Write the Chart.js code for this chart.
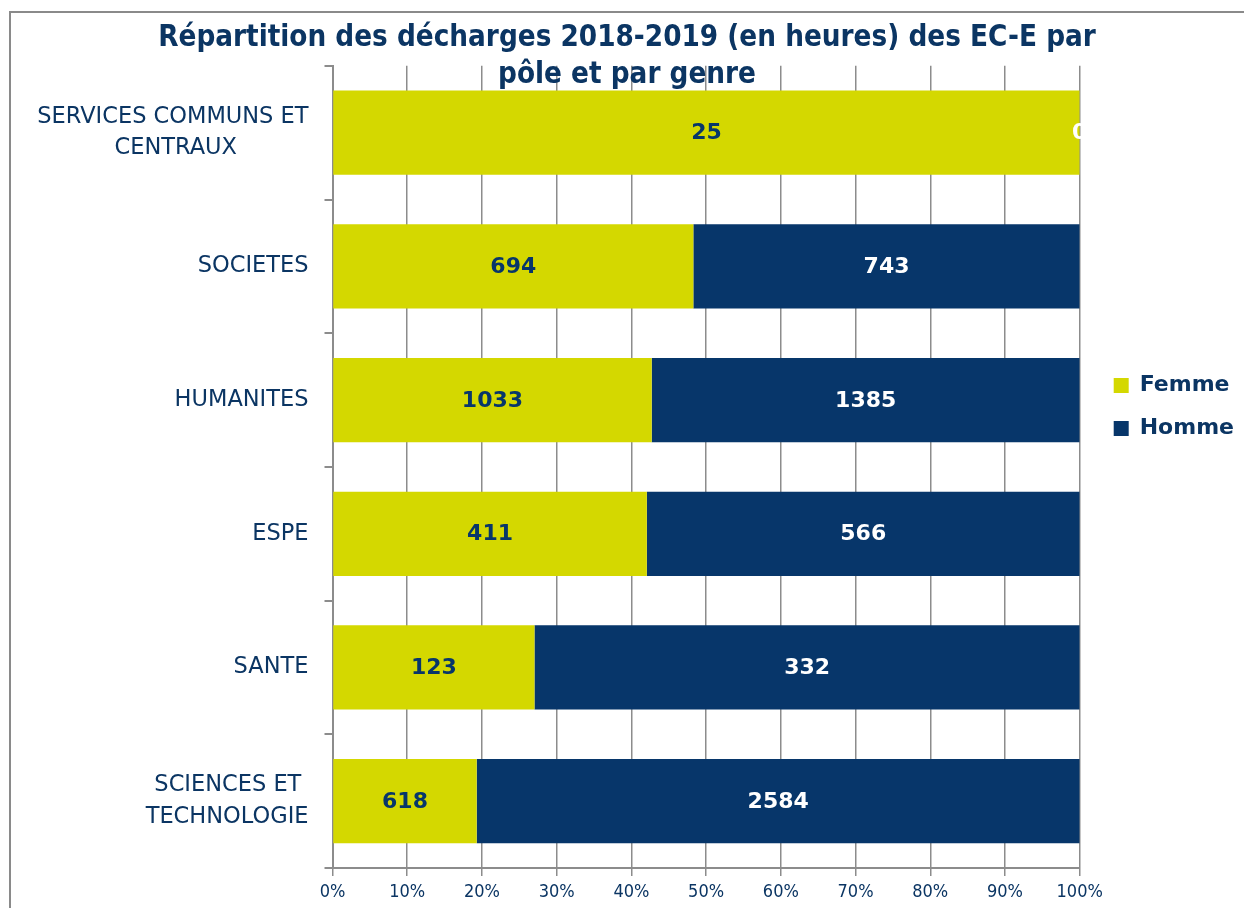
<!DOCTYPE html>
<html lang="fr">
<head>
<meta charset="utf-8">
<title>Répartition des décharges 2018-2019</title>
<script src="https://cdn.jsdelivr.net/npm/chart.js@4/dist/chart.umd.min.js"></script>
<style>
  html, body { margin: 0; padding: 0; background: #fff; }
  #wrap { position: relative; width: 1244px; height: 908px; }
  #frame {
    position: absolute; left: 9px; top: 11px; right: -10px; bottom: -10px;
    border-left: 2px solid #8a8a8a; border-top: 2px solid #8a8a8a;
    pointer-events: none;
  }
</style>
</head>
<body>
<div id="wrap">
  <canvas id="chart" width="1244" height="908"></canvas>
  <div id="frame"></div>
</div>
<script>
'use strict';

// ── Data ──────────────────────────────────────────────────────────────────────
const categories = [
  ['SERVICES COMMUNS ET', 'CENTRAUX'],
  'SOCIETES',
  'HUMANITES',
  'ESPE',
  'SANTE',
  ['SCIENCES ET', 'TECHNOLOGIE']
];
const femmeHours = [25, 694, 1033, 411, 123, 618];
const hommeHours = [0, 743, 1385, 566, 332, 2584];
const xTicks = [0, 10, 20, 30, 40, 50, 60, 70, 80, 90, 100];

const NAVY = '#07366a';
const LIME = '#d4d800';
const TEXT = '#0b3563';
const GRID = '#8c8c8c';

// share of each pole, in percent (100% stacked bars)
const totals = femmeHours.map((f, i) => f + hommeHours[i]);
const femmePct = femmeHours.map((f, i) => f / totals[i] * 100);
const hommePct = hommeHours.map((h, i) => h / totals[i] * 100);

// center short lines of a multi-line label under the longest one
const LABEL_FONT = '22.5px "DejaVu Sans"';
const measure = document.createElement('canvas').getContext('2d');
measure.font = LABEL_FONT;
function centerLines(label) {
  if (!Array.isArray(label)) return label;
  const widths = label.map(l => measure.measureText(l).width);
  const max = Math.max(...widths);
  const sp = measure.measureText(' ').width;
  return label.map((l, i) => l + ' '.repeat(Math.round((max - widths[i]) / 2 / sp)));
}

// ── Plugins ───────────────────────────────────────────────────────────────────
// value labels in the middle of each segment
const valueLabels = {
  id: 'valueLabels',
  afterDatasetsDraw(chart) {
    const ctx = chart.ctx;
    ctx.save();
    ctx.font = 'bold 22px "DejaVu Sans"';
    ctx.textAlign = 'center';
    ctx.textBaseline = 'middle';
    chart.data.datasets.forEach((ds, di) => {
      const meta = chart.getDatasetMeta(di);
      meta.data.forEach((bar, i) => {
        const x = (bar.x + bar.base) / 2;
        ctx.fillStyle = ds.labelColor;
        ctx.fillText(String(ds.hours[i]), x, bar.y + 1);
      });
    });
    ctx.restore();
  }
};

// nudge legend and title to where they sit in the original
const boxNudge = {
  id: 'boxNudge',
  afterLayout(chart) {
    const lg = chart.legend;
    if (lg) {
      lg.left += 13; lg.right += 13;
      lg.top -= 47; lg.bottom -= 47;
    }
    const tb = chart.titleBlock;
    if (tb) { tb.left -= 5; tb.right -= 5; }
  }
};

// ── Chart ─────────────────────────────────────────────────────────────────────
new Chart(document.getElementById('chart'), {
  type: 'bar',
  data: {
    labels: categories,
    datasets: [
      { label: 'Femme', data: femmePct, hours: femmeHours, backgroundColor: LIME, labelColor: NAVY },
      { label: 'Homme', data: hommePct, hours: hommeHours, backgroundColor: NAVY, labelColor: '#ffffff' }
    ]
  },
  options: {
    indexAxis: 'y',
    responsive: false,
    animation: false,
    layout: { padding: { left: 33, right: 13, top: 0, bottom: 0 } },
    datasets: { bar: { categoryPercentage: 1, barPercentage: 0.63, borderWidth: 0 } },
    scales: {
      x: {
        stacked: true,
        min: 0, max: 100,
        afterBuildTicks(axis) { axis.ticks = xTicks.map(v => ({ value: v })); },
        afterFit(axis) { axis.height = 40; },
        grid: { color: GRID, lineWidth: 1.5, tickLength: 8 },
        border: { color: GRID, width: 2 },
        ticks: {
          color: TEXT,
          padding: 6,
          font: { family: '"DejaVu Sans Condensed", "DejaVu Sans"', size: 18 },
          callback: v => v + '%'
        }
      },
      y: {
        stacked: true,
        afterFit(axis) { axis.paddingTop = 0; axis.paddingBottom = 0; },
        grid: { drawOnChartArea: false, color: GRID, lineWidth: 2, tickLength: 8 },
        border: { color: GRID, width: 2 },
        ticks: {
          color: TEXT,
          padding: 16,
          font: { family: '"DejaVu Sans"', size: 22.5, lineHeight: 1.4 },
          callback(v) { return centerLines(categories[v]); }
        }
      }
    },
    plugins: {
      title: {
        display: true,
        text: ['Répartition des décharges 2018-2019 (en heures) des EC-E par', 'pôle et par genre'],
        color: TEXT,
        font: { family: '"DejaVu Sans Condensed", "DejaVu Sans"', size: 29.3, weight: 'bold', lineHeight: 1.26 },
        padding: { top: 20, bottom: -28 }
      },
      legend: {
        position: 'right',
        labels: {
          color: TEXT,
          font: { family: '"DejaVu Sans"', size: 22, weight: 'bold' },
          boxWidth: 15, boxHeight: 15,
          padding: 21
        }
      },
      tooltip: { enabled: false }
    }
  },
  plugins: [valueLabels, boxNudge]
});
</script>
</body>
</html>
